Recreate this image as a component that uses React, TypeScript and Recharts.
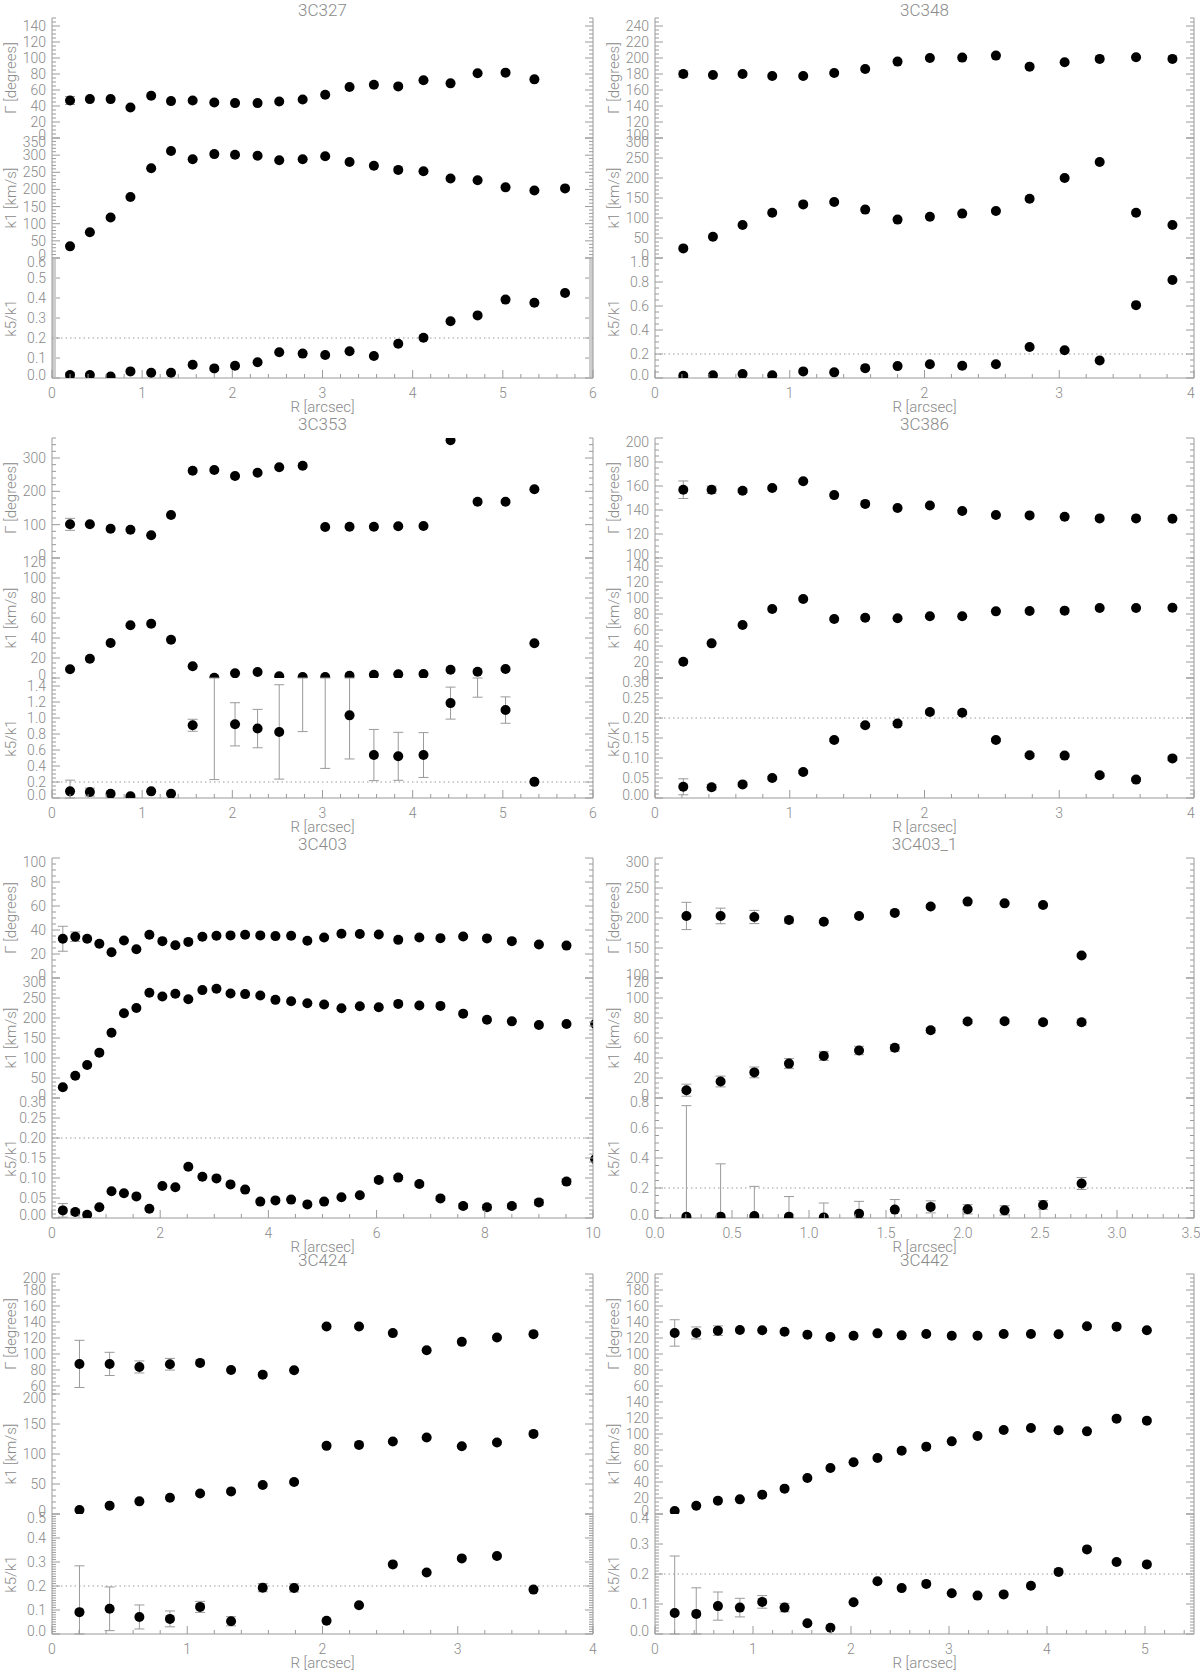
import React from "react";
import { ScatterChart, Scatter, XAxis, YAxis, ErrorBar, ReferenceLine } from "recharts";

const GREY = "#9a9a9a";
const TXT = "#8a8a8a";
const FONT = "Roboto, 'DejaVu Sans', sans-serif";

// ---- 3C327 ----
const R_3C327 = [0.2, 0.42, 0.65, 0.87, 1.1, 1.32, 1.56, 1.8, 2.03, 2.28, 2.52, 2.78, 3.03, 3.3, 3.57, 3.84, 4.12, 4.42, 4.72, 5.03, 5.35, 5.69];
const G_3C327 = [46.9, 48.6, 48.6, 38.1, 52.8, 46.1, 46.9, 44.4, 43.6, 43.6, 45.7, 48.2, 54.0, 63.7, 66.6, 64.5, 72.1, 68.3, 80.9, 81.7, 73.3];
const G_3C327_ERR = [5];
const K1_3C327 = [34, 75, 118, 178, 262, 312, 288, 303, 301, 298, 285, 288, 297, 280, 269, 257, 253, 232, 227, 206, 197, 203];
const K51_3C327 = [0.015, 0.015, 0.007, 0.033, 0.026, 0.026, 0.066, 0.048, 0.061, 0.079, 0.129, 0.122, 0.115, 0.134, 0.11, 0.171, 0.201, 0.284, 0.313, 0.392, 0.376, 0.425];
const K51_3C327_ERR = [0.012];

// ---- 3C348 ----
const R_3C348 = [0.21, 0.43, 0.65, 0.87, 1.1, 1.33, 1.56, 1.8, 2.04, 2.28, 2.53, 2.78, 3.04, 3.3, 3.57, 3.84];
const G_3C348 = [180, 178.8, 180, 177.5, 177.5, 181.3, 186.3, 195.5, 200.1, 200.5, 203, 189.2, 194.7, 198.9, 201, 198.9];
const G_3C348_ERR = [4];
const K1_3C348 = [24, 53, 82.5, 113, 134, 140, 121, 96, 103, 111, 117.5, 148, 200, 240, 113, 82.5];
const K51_3C348 = [0.019, 0.022, 0.033, 0.022, 0.055, 0.047, 0.082, 0.099, 0.115, 0.102, 0.115, 0.258, 0.231, 0.146, 0.607, 0.816];

// ---- 3C353 ----
const R_3C353 = [0.2, 0.42, 0.65, 0.87, 1.1, 1.32, 1.56, 1.8, 2.03, 2.28, 2.52, 2.78, 3.03, 3.3, 3.57, 3.84, 4.12, 4.42, 4.72, 5.03, 5.35];
const G_3C353 = [101, 101, 88, 85, 68, 129, 262, 264, 246, 256, 272, 277, 93, 94, 94, 95, 96, 353, 169, 169, 206];
const G_3C353_ERR = [18];
const K1_3C353 = [8.7, 19.3, 35, 52.7, 54.3, 38.3, 11.7, 0.3, 4.7, 6, 1.7, 1, 1, 2.3, 3.3, 3.7, 4, 8.3, 6.3, 9, 34.7];
const K51_3C353 = [0.083, 0.074, 0.054, 0.021, 0.083, 0.054, 0.909, 1.9, 0.921, 0.868, 0.826, 1.7, 1.9, 1.033, 0.537, 0.521, 0.537, 1.186, 1.62, 1.099, 0.202];
const K51_3C353_ERR = [0.14, 0.05, 0, 0, 0, 0, 0.075, 1.67, 0.27, 0.24, 0.59, 0.87, 1.53, 0.545, 0.32, 0.3, 0.28, 0.2, 0.36, 0.165, 0];

// ---- 3C386 ----
const R_3C386 = [0.21, 0.42, 0.65, 0.87, 1.1, 1.33, 1.56, 1.8, 2.04, 2.28, 2.53, 2.78, 3.04, 3.3, 3.57, 3.84];
const G_3C386 = [156.9, 156.9, 156.1, 158.3, 163.9, 152.4, 145.1, 141.7, 143.7, 139.2, 135.8, 135.5, 134.4, 133, 133, 132.7];
const G_3C386_ERR = [7.3, 3, 1.5, 1];
const K1_3C386 = [20.4, 43.3, 66.3, 86.3, 98.8, 73.8, 75.4, 74.6, 77.1, 77.1, 83.3, 83.8, 84.2, 87.5, 87.5, 87.9];
const K51_3C386 = [0.028, 0.027, 0.034, 0.05, 0.065, 0.145, 0.182, 0.186, 0.215, 0.213, 0.145, 0.107, 0.106, 0.057, 0.046, 0.099];
const K51_3C386_ERR = [0.02, 0.007, 0.004, 0.004, 0.004, 0.003, 0.004, 0.005, 0.005, 0.004, 0.004, 0.004, 0.004, 0.004, 0.004, 0.005];

// ---- 3C403 ----
const R_3C403 = [0.2, 0.43, 0.65, 0.875, 1.1, 1.33, 1.56, 1.8, 2.04, 2.28, 2.52, 2.78, 3.04, 3.3, 3.57, 3.85, 4.13, 4.42, 4.72, 5.03, 5.35, 5.69, 6.04, 6.4, 6.79, 7.18, 7.6, 8.04, 8.5, 9.0, 9.51, 10.04];
const G_3C403 = [32.7, 34.4, 32.7, 28.5, 21.4, 31.3, 23.9, 36.1, 30.7, 27.3, 30.1, 34.4, 35.2, 35.5, 36.1, 35.5, 34.9, 35.2, 31, 33.8, 36.9, 36.6, 36.3, 31.8, 33.8, 33.2, 34.6, 33, 30.7, 27.9, 27];
const G_3C403_ERR = [10.4, 4];
const K1_3C403 = [26.9, 55.5, 82.4, 113.4, 163, 211.8, 225.2, 263, 253.8, 260.5, 247, 269.7, 273.1, 261.3, 259.7, 256.3, 245.4, 242, 237, 233.6, 224.4, 229.4, 226.9, 235.3, 231.1, 230.3, 210.9, 195.8, 191.6, 182.4, 184.9, 184.9];
const K51_3C403 = [0.019, 0.015, 0.008, 0.027, 0.067, 0.062, 0.054, 0.023, 0.08, 0.077, 0.128, 0.103, 0.099, 0.084, 0.071, 0.041, 0.044, 0.046, 0.034, 0.041, 0.052, 0.057, 0.095, 0.101, 0.085, 0.049, 0.03, 0.027, 0.03, 0.039, 0.091, 0.147];
const K51_3C403_ERR = [0.017, 0.007, 0, 0, 0, 0, 0, 0, 0, 0, 0, 0, 0, 0, 0, 0, 0, 0, 0, 0, 0, 0, 0.006, 0.005, 0.005, 0.005, 0.006, 0.007, 0.006, 0.007, 0.007, 0];

// ---- 3C403_1 ----
const R_3C403_1 = [0.204, 0.426, 0.645, 0.87, 1.096, 1.325, 1.557, 1.79, 2.03, 2.27, 2.52, 2.77];
const G_3C403_1 = [203.4, 203.4, 201.7, 196.6, 193.8, 203.4, 208.5, 219.3, 227.3, 224.4, 221.6, 137.5];
const G_3C403_1_ERR = [22.7, 13, 11, 5, 2, 2, 2, 2, 2, 2, 2, 2];
const K1_3C403_1 = [7.8, 16.5, 25.6, 34.4, 42.1, 47.5, 50.2, 67.7, 76.5, 76.8, 75.8, 75.8];
const K1_3C403_1_ERR = [6, 5.4, 5.4, 5, 4.5, 4.2, 3.4, 2.5, 2, 2, 2, 3];
const K51_3C403_1 = [0.009, 0.009, 0.013, 0.009, 0.004, 0.029, 0.056, 0.074, 0.058, 0.051, 0.087, 0.23];
const K51_3C403_1_ERR = [0.74, 0.352, 0.198, 0.134, 0.096, 0.082, 0.067, 0.04, 0.031, 0.031, 0.029, 0.04];

// ---- 3C424 ----
const R_3C424 = [0.203, 0.426, 0.646, 0.872, 1.095, 1.324, 1.558, 1.79, 2.03, 2.27, 2.52, 2.77, 3.03, 3.29, 3.56];
const G_3C424 = [87.6, 87.6, 83.8, 87.2, 88.9, 80.1, 74.2, 79.7, 134.4, 134.4, 126.1, 104.7, 115.2, 120.6, 124.8];
const G_3C424_ERR = [29.5, 14.5, 7.5, 7.3];
const K1_3C424 = [6.6, 13.9, 21.1, 27.1, 34.3, 37.7, 48.2, 53.2, 113.6, 115.2, 120.8, 127.4, 113, 119.1, 133.5];
const K51_3C424 = [0.091, 0.105, 0.071, 0.063, 0.113, 0.053, 0.193, 0.192, 0.055, 0.12, 0.29, 0.256, 0.315, 0.325, 0.185];
const K51_3C424_ERR = [0.193, 0.091, 0.05, 0.033, 0.023, 0.019, 0.017, 0.017];

// ---- 3C442 ----
const R_3C442 = [0.201, 0.421, 0.642, 0.866, 1.094, 1.322, 1.555, 1.79, 2.026, 2.27, 2.517, 2.768, 3.028, 3.291, 3.558, 3.836, 4.118, 4.408, 4.71, 5.019];
const G_3C442 = [126.3, 126.3, 129.2, 130, 129.6, 127.9, 124.2, 121.3, 122.9, 125.8, 123.3, 125, 122.9, 122.9, 125, 125, 124.6, 134.6, 134.2, 129.6];
const G_3C442_ERR = [16.5, 7.5, 6];
const K1_3C442 = [3.75, 10.4, 16.7, 18.3, 24.2, 31.7, 45, 57.5, 64.6, 70, 79.2, 84.2, 90.8, 97.5, 105, 107.5, 104.6, 103.3, 119.2, 116.7];
const K51_3C442 = [0.07, 0.067, 0.093, 0.088, 0.107, 0.088, 0.036, 0.021, 0.106, 0.176, 0.153, 0.167, 0.136, 0.128, 0.132, 0.161, 0.207, 0.282, 0.24, 0.232];
const K51_3C442_ERR = [0.19, 0.087, 0.047, 0.031, 0.021, 0.014];

type Sub = {
  label: string;
  domain: [number, number];
  major: number;
  minor: number;
  dec: number;
  vals: number[];
  errs?: number[];
  ref?: boolean;
};
type Panel = {
  name: string;
  r: number[];
  xDomain: [number, number];
  xMajor: number;
  xMinor: number;
  xDec: number;
  subs: Sub[];
};

const gam = (domain: [number, number], major: number, minor: number, vals: number[], errs?: number[]): Sub =>
  ({ label: "Γ [degrees]", domain, major, minor, dec: 0, vals, errs });
const k1 = (domain: [number, number], major: number, minor: number, vals: number[], errs?: number[]): Sub =>
  ({ label: "k1 [km/s]", domain, major, minor, dec: 0, vals, errs });
const k51 = (domain: [number, number], major: number, minor: number, dec: number, vals: number[], errs?: number[]): Sub =>
  ({ label: "k5/k1", domain, major, minor, dec, vals, errs, ref: true });

const PANELS: Panel[] = [
  { name: "3C327", r: R_3C327, xDomain: [0, 6], xMajor: 1, xMinor: 0.2, xDec: 0, subs: [
    gam([0, 150], 20, 5, G_3C327, G_3C327_ERR), k1([0, 350], 50, 10, K1_3C327), k51([0, 0.6], 0.1, 0.01, 1, K51_3C327, K51_3C327_ERR)] },
  { name: "3C348", r: R_3C348, xDomain: [0, 4], xMajor: 1, xMinor: 0.2, xDec: 0, subs: [
    gam([100, 250], 20, 5, G_3C348, G_3C348_ERR), k1([0, 300], 50, 10, K1_3C348), k51([0, 1], 0.2, 0.05, 1, K51_3C348)] },
  { name: "3C353", r: R_3C353, xDomain: [0, 6], xMajor: 1, xMinor: 0.2, xDec: 0, subs: [
    gam([0, 360], 100, 20, G_3C353, G_3C353_ERR), k1([0, 120], 20, 5, K1_3C353), k51([0, 1.5], 0.2, 0.05, 1, K51_3C353, K51_3C353_ERR)] },
  { name: "3C386", r: R_3C386, xDomain: [0, 4], xMajor: 1, xMinor: 0.2, xDec: 0, subs: [
    gam([100, 200], 20, 5, G_3C386, G_3C386_ERR), k1([0, 150], 20, 5, K1_3C386), k51([0, 0.3], 0.05, 0.01, 2, K51_3C386, K51_3C386_ERR)] },
  { name: "3C403", r: R_3C403, xDomain: [0, 10], xMajor: 2, xMinor: 0.5, xDec: 0, subs: [
    gam([0, 100], 20, 5, G_3C403, G_3C403_ERR), k1([0, 300], 50, 10, K1_3C403), k51([0, 0.3], 0.05, 0.01, 2, K51_3C403, K51_3C403_ERR)] },
  { name: "3C403_1", r: R_3C403_1, xDomain: [0, 3.5], xMajor: 0.5, xMinor: 0.1, xDec: 1, subs: [
    gam([100, 300], 50, 10, G_3C403_1, G_3C403_1_ERR), k1([0, 120], 20, 5, K1_3C403_1, K1_3C403_1_ERR), k51([0, 0.8], 0.2, 0.05, 1, K51_3C403_1, K51_3C403_1_ERR)] },
  { name: "3C424", r: R_3C424, xDomain: [0, 4], xMajor: 1, xMinor: 0.2, xDec: 0, subs: [
    gam([50, 200], 20, 5, G_3C424, G_3C424_ERR), k1([0, 200], 50, 10, K1_3C424), k51([0, 0.5], 0.1, 0.01, 1, K51_3C424, K51_3C424_ERR)] },
  { name: "3C442", r: R_3C442, xDomain: [0, 5.5], xMajor: 1, xMinor: 0.2, xDec: 0, subs: [
    gam([50, 200], 20, 5, G_3C442, G_3C442_ERR), k1([0, 150], 20, 5, K1_3C442), k51([0, 0.4], 0.1, 0.01, 1, K51_3C442, K51_3C442_ERR)] },
];

const COL_LEFT = [52, 655];
const COL_W = [541, 539];
const ROW_TOP = [18, 438, 858, 1274];
const PH = 120;
const YW = 50;
const M = 8;

function isMajor(v: number, step: number) {
  const q = v / step;
  return Math.abs(q - Math.round(q)) < 1e-6;
}

function tickList(lo: number, hi: number, step: number) {
  const out: number[] = [];
  for (let k = Math.ceil(lo / step - 1e-9); k * step <= hi + 1e-9; k++) out.push(+(k * step).toFixed(6));
  return out;
}

const xTick = (side: "top" | "bottom", p0: Panel, labels: boolean, edge: number) => (p: any) => {
  const v = Number(p.payload.value);
  const maj = isMajor(v, p0.xMajor);
  const d = side === "bottom" ? -1 : 1;
  const shift = Math.abs(v - p0.xDomain[1]) < 1e-9 ? edge : 0;
  return (
    <g>
      <line x1={p.x} y1={p.y} x2={p.x} y2={p.y + d * (maj ? 8 : 4)} stroke={GREY} />
      {labels && maj ? (
        <text x={p.x + shift} y={p.y + 15} textAnchor="middle" dominantBaseline="central" fontSize={14} fontWeight={300} fill={TXT} fontFamily={FONT}>
          {v.toFixed(p0.xDec)}
        </text>
      ) : null}
    </g>
  );
};

const yTick = (side: "left" | "right", s: Sub, labels: boolean) => (p: any) => {
  const v = Number(p.payload.value);
  const maj = isMajor(v, s.major);
  const d = side === "left" ? 1 : -1;
  let ly = p.y;
  if (Math.abs(v - s.domain[0]) < 1e-9) ly -= 3;
  if (Math.abs(v - s.domain[1]) < 1e-9) ly += 4;
  return (
    <g>
      <line x1={p.x} y1={p.y} x2={p.x + d * (maj ? 8 : 4)} y2={p.y} stroke={GREY} />
      {labels && maj ? (
        <text x={p.x - 6} y={ly} textAnchor="end" dominantBaseline="central" fontSize={14} fontWeight={300} fill={TXT} fontFamily={FONT}>
          {v.toFixed(s.dec)}
        </text>
      ) : null}
    </g>
  );
};

const dot = (p: any) => <circle cx={p.cx} cy={p.cy} r={5} fill="#000" />;

// error bars are clipped to the plotted range, like the reference
function clippedErr(v: number, e: number, lo: number, hi: number): number | [number, number] {
  if (!e) return 0;
  const bottom = Math.max(lo, v - e);
  const top = Math.min(hi, v + e);
  return [v - bottom, top - v];
}

function SubPlot({ p, s, last, left, top, pw, edge }: { p: Panel; s: Sub; last: boolean; left: number; top: number; pw: number; edge: number }) {
  const [lo, hi] = s.domain;
  const data = s.vals.map((v, i) => ({ x: p.r[i], y: v, e: clippedErr(v, s.errs ? s.errs[i] || 0 : 0, lo, hi) }));
  const xt = tickList(p.xDomain[0], p.xDomain[1], p.xMinor);
  const yt = tickList(lo, hi, s.minor);
  const bh = last ? 36 : 0;
  return (
    <div style={{ position: "absolute", left: left - YW, top: top - M }}>
      <ScatterChart width={YW + pw + 16} height={M + PH + bh + M} margin={{ top: M, right: 10, bottom: M, left: 0 }}>
        <XAxis xAxisId="b" type="number" dataKey="x" domain={p.xDomain} allowDataOverflow ticks={xt} interval={0}
          height={bh} tickSize={0} tickMargin={0} tickLine={false} axisLine={{ stroke: GREY }} tick={xTick("bottom", p, last, edge)} />
        <XAxis xAxisId="t" orientation="top" type="number" dataKey="x" domain={p.xDomain} allowDataOverflow ticks={xt} interval={0}
          height={0} tickSize={0} tickMargin={0} tickLine={false} axisLine={{ stroke: GREY }} tick={xTick("top", p, false, 0)} />
        <YAxis yAxisId="l" type="number" dataKey="y" domain={s.domain} allowDataOverflow ticks={yt} interval={0}
          width={YW} tickSize={0} tickMargin={0} tickLine={false} axisLine={{ stroke: GREY }} tick={yTick("left", s, true)} />
        <YAxis yAxisId="r" orientation="right" type="number" dataKey="y" domain={s.domain} allowDataOverflow ticks={yt} interval={0}
          width={6} tickSize={0} tickMargin={0} tickLine={false} axisLine={{ stroke: GREY }} tick={yTick("right", s, false)} />
        {s.ref ? <ReferenceLine xAxisId="b" yAxisId="l" y={0.2} stroke={GREY} strokeDasharray="1.5 3" /> : null}
        <Scatter xAxisId="b" yAxisId="l" data={data} shape={dot} isAnimationActive={false}>
          <ErrorBar dataKey="e" direction="y" width={5} stroke={GREY} strokeWidth={1} />
        </Scatter>
      </ScatterChart>
    </div>
  );
}

const label = (text: string, x: number, y: number, size: number, rotate = false) => (
  <div
    key={text + x + y}
    style={{
      position: "absolute",
      left: x,
      top: y,
      transform: `translate(-50%, -50%)${rotate ? " rotate(-90deg)" : ""}`,
      whiteSpace: "nowrap",
      fontFamily: FONT,
      fontWeight: 300,
      fontSize: size,
      lineHeight: 1.15,
      color: TXT,
    }}
  >
    {text}
  </div>
);

export default function App() {
  return (
    <div style={{ position: "absolute", left: 0, top: 0, width: 1200, height: 1672, background: "#fff", overflow: "hidden" }}>
      {PANELS.map((p, k) => {
        const col = k % 2;
        const left = COL_LEFT[col];
        const pw = COL_W[col];
        const top = ROW_TOP[Math.floor(k / 2)];
        return (
          <React.Fragment key={p.name}>
            {label(p.name, left + pw / 2, Math.max(top - 13, 11), 17)}
            {p.subs.map((s, i) => (
              <React.Fragment key={i}>
                <SubPlot p={p} s={s} last={i === 2} left={left} top={top + i * PH} pw={pw} edge={col === 1 ? -3 : 0} />
                {label(s.label, left - 40, top + i * PH + PH / 2, 15, true)}
              </React.Fragment>
            ))}
            {label("R [arcsec]", left + pw / 2, top + 3 * PH + 30, 15)}
          </React.Fragment>
        );
      })}
    </div>
  );
}
